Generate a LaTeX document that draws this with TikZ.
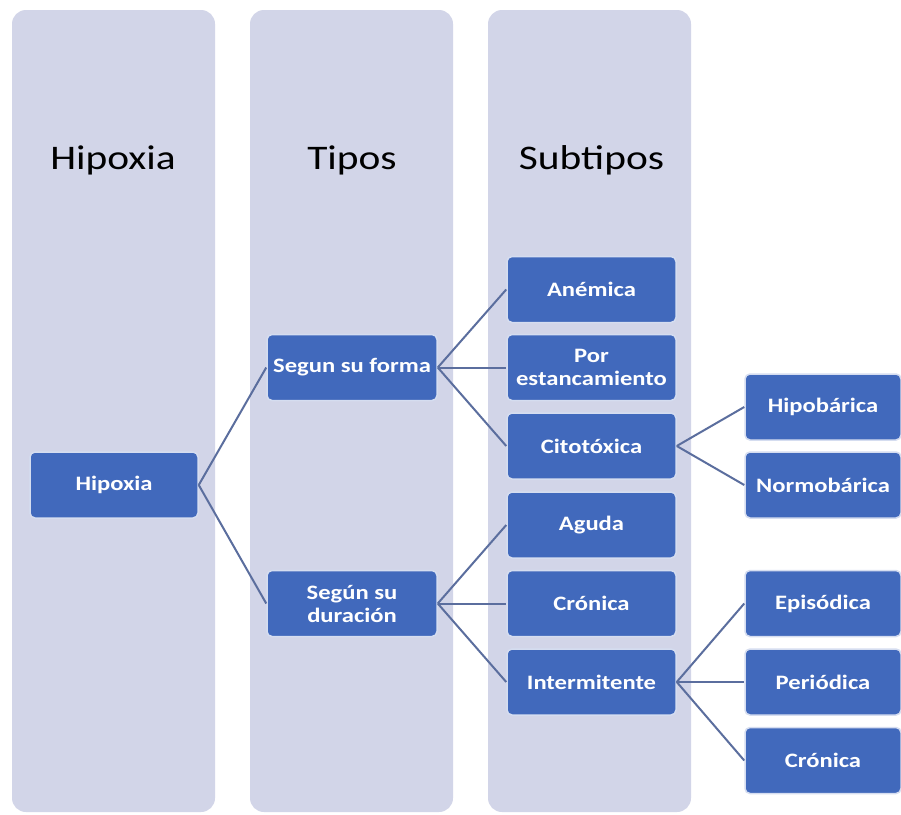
\documentclass[tikz,border=0pt]{standalone}
\usepackage{fontspec}
\setmainfont[FakeStretch=1.2]{Carlito}
\usepackage{tikz}

\definecolor{colbg}{HTML}{D2D5E8}
\definecolor{boxblue}{HTML}{4169BC}
\definecolor{boxline}{HTML}{D5DDF0}
\definecolor{linkcol}{HTML}{5B6E9E}

\tikzset{
    column/.style={fill=colbg, rounded corners=14pt},
    header/.style={font=\fontsize{34.5}{38}\selectfont, text=black},
    item/.style={draw=boxline, line width=1.5pt, fill=boxblue, rounded corners=5pt,
        minimum width=169pt, minimum height=66pt, inner sep=2pt,
        text=white, align=center, font=\bfseries\fontsize{20.5}{23}\selectfont},
    link/.style={draw=linkcol, line width=2pt}
}

\begin{document}
\begin{tikzpicture}[x=1pt,y=-1pt]
        \def\colA{113}
        \def\colB{352}
        \def\colC{591.5}
        \def\colD{823}

        \useasboundingbox[fill=white] (0,0) rectangle (901,814);

        % columns
        \fill[column] (12,10) rectangle (215,812);
        \fill[column] (250,10) rectangle (453,812);
        \fill[column] (488,10) rectangle (691,812);

        \node[header] (hHip) at (\colA,160) {Hipoxia};
        \node[header] (hTip) at (\colB,160) {Tipos};
        \node[header] (hSub) at (\colC,160) {Subtipos};

        % boxes
        \node[item, minimum width=168pt] (hip) at (114,485) {Hipoxia};
        \node[item, minimum width=170pt] (forma) at (\colB,367.5) {Segun su forma};
        \node[item, minimum width=170pt] (dur) at (\colB,603.5) {Según su\\duración};

        \node[item] (anem) at (\colC,289.5) {Anémica};
        \node[item] (por) at (\colC,367.5) {Por\\estancamiento};
        \node[item] (cito) at (\colC,446) {Citotóxica};
        \node[item] (aguda) at (\colC,525) {Aguda};
        \node[item] (cron) at (\colC,603.5) {Crónica};
        \node[item] (inter) at (\colC,682) {Intermitente};

        \node[item, minimum width=156pt] (hipob) at (\colD,407) {Hipobárica};
        \node[item, minimum width=156pt] (normo) at (\colD,485) {Normobárica};
        \node[item, minimum width=156pt] (epis) at (\colD,603.5) {Episódica};
        \node[item, minimum width=156pt] (perio) at (\colD,682) {Periódica};
        \node[item, minimum width=156pt] (cronB) at (\colD,760.5) {Crónica};

        % links
        \draw[link] (hip.east) -- (forma.west);
        \draw[link] (hip.east) -- (dur.west);
        \foreach \c in {anem,por,cito}
            \draw[link] (forma.east) -- (\c.west);
        \foreach \c in {aguda,cron,inter}
            \draw[link] (dur.east) -- (\c.west);
        \foreach \c in {hipob,normo}
            \draw[link] (cito.east) -- (\c.west);
        \foreach \c in {epis,perio,cronB}
            \draw[link] (inter.east) -- (\c.west);
\end{tikzpicture}
\end{document}
